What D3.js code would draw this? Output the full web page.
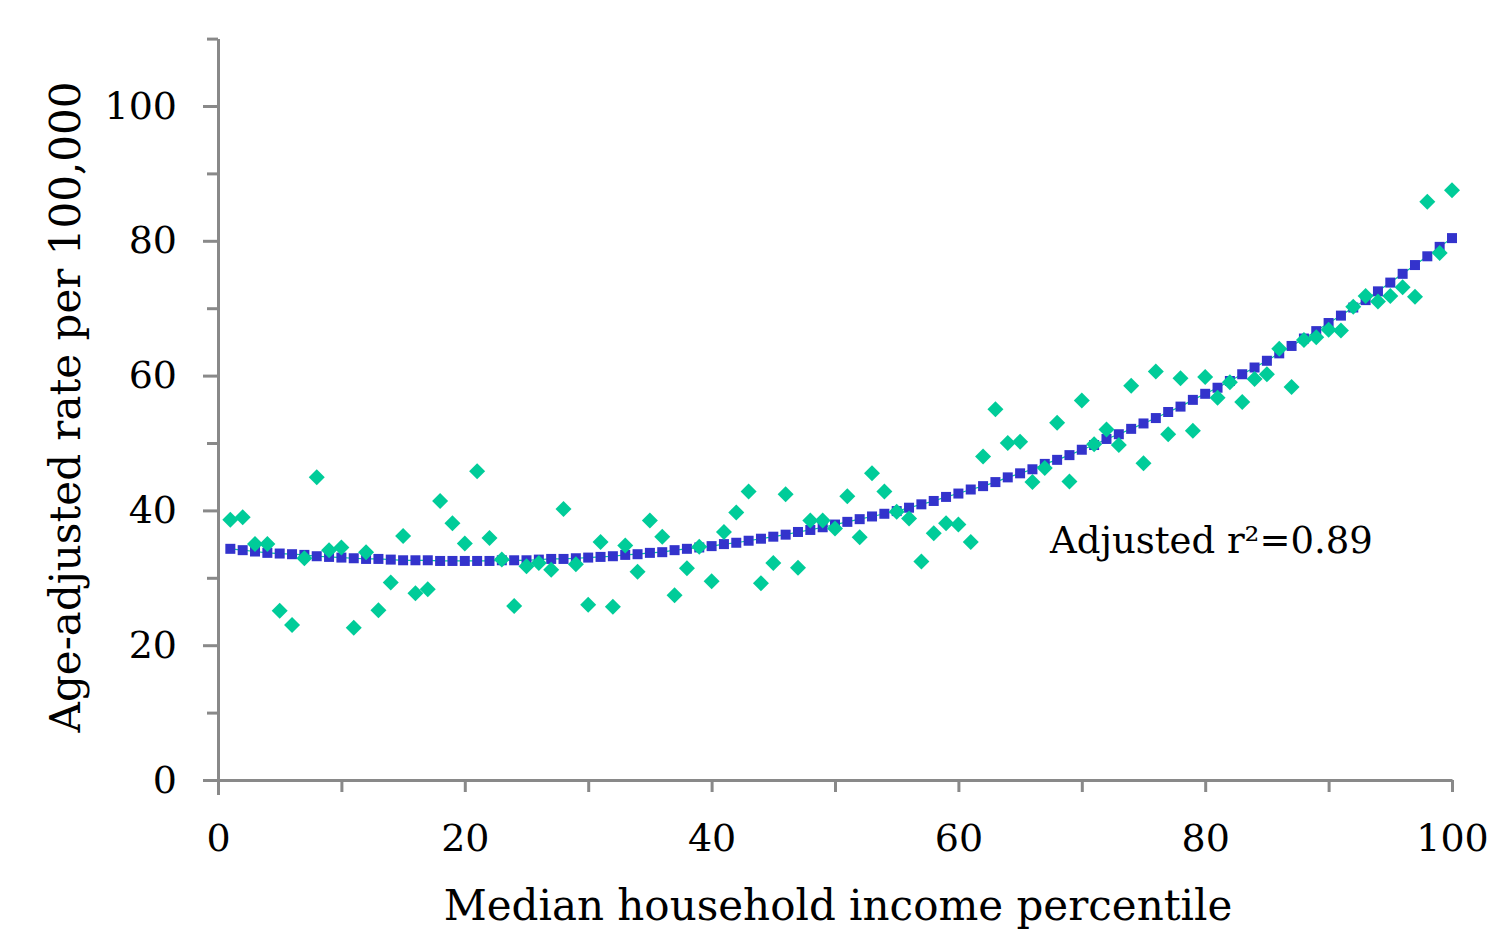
<!doctype html>
<html lang="en">
<head>
<meta charset="utf-8">
<title>Age-adjusted rate by income percentile</title>
<script src="https://d3js.org/d3.v7.min.js"></script>
<style>
  body { margin: 0; background: #fff; }
  svg text { font-family: 'DejaVu Serif', 'Liberation Serif', serif; fill: #000; }
  .axis path, .axis line { stroke: #898989; stroke-width: 3px; }
</style>
</head>
<body>
<div id="chart"></div>
<script>
// percentile 1..100
const percentiles = d3.range(1, 101)

// observed age-adjusted rates (green diamonds)
const observed = [
  38.6, 39.0, 35.0, 35.0, 25.1, 23.0, 32.9, 44.9, 34.1, 34.5,
  22.6, 33.8, 25.2, 29.3, 36.2, 27.7, 28.3, 41.4, 38.1, 35.1,
  45.8, 35.9, 32.7, 25.8, 31.7, 32.2, 31.2, 40.2, 32.0, 26.0,
  35.3, 25.7, 34.8, 30.9, 38.5, 36.1, 27.4, 31.4, 34.6, 29.5,
  36.8, 39.7, 42.8, 29.2, 32.2, 42.4, 31.5, 38.5, 38.5, 37.3,
  42.1, 36.0, 45.5, 42.8, 39.8, 38.8, 32.4, 36.6, 38.1, 37.9,
  35.3, 48.0, 55.0, 50.0, 50.2, 44.2, 46.3, 53.0, 44.3, 56.3,
  49.8, 52.0, 49.7, 58.5, 47.0, 60.6, 51.3, 59.6, 51.8, 59.8,
  56.7, 59.0, 56.1, 59.5, 60.2, 64.0, 58.3, 65.3, 65.7, 66.8,
  66.7, 70.2, 71.8, 71.0, 71.8, 73.1, 71.7, 85.8, 78.2, 87.5
]

// fitted trend (blue squares)
const fitted = [
  34.3, 34.1, 33.9, 33.7, 33.6, 33.5, 33.4, 33.2, 33.1, 33.0,
  32.9, 32.8, 32.8, 32.7, 32.6, 32.6, 32.6, 32.5, 32.5, 32.5,
  32.5, 32.5, 32.6, 32.6, 32.6, 32.7, 32.8, 32.8, 32.9, 33.0,
  33.1, 33.2, 33.4, 33.5, 33.7, 33.8, 34.1, 34.3, 34.5, 34.7,
  35.0, 35.2, 35.5, 35.8, 36.1, 36.4, 36.8, 37.1, 37.5, 37.9,
  38.3, 38.7, 39.1, 39.5, 39.9, 40.4, 40.9, 41.4, 42.0, 42.5,
  43.1, 43.6, 44.2, 44.9, 45.5, 46.1, 46.9, 47.5, 48.2, 49.0,
  49.7, 50.6, 51.3, 52.1, 52.9, 53.7, 54.6, 55.4, 56.4, 57.3,
  58.2, 59.2, 60.2, 61.2, 62.2, 63.3, 64.4, 65.5, 66.6, 67.8,
  68.9, 70.1, 71.2, 72.5, 73.8, 75.1, 76.4, 77.7, 79.1, 80.4
]

const yTicks = d3.range(0, 111, 10)
const xTicks = d3.range(0, 101, 10)
const annotation = 'Adjusted r\u00b2=0.89'

const width = 1493
const height = 931

const svg = d3.select('#chart').append('svg')
  .attr('width', width)
  .attr('height', height)

const x = d3.scaleLinear().domain([0, 100]).range([218, 1452])
const y = d3.scaleLinear().domain([0, 110]).range([780, 38.6])

// only every other tick gets a label
const labelled = d => d % 20 === 0 && d <= 100

// y axis
const yAxis = svg.append('g')
  .attr('class', 'axis')
  .attr('transform', `translate(${x(0)},0)`)
  .call(d3.axisLeft(y).tickValues(yTicks).tickSize(15).tickSizeOuter(0)
    .tickPadding(26)
    .tickFormat(d => labelled(d) ? d : ''))
yAxis.selectAll('.tick line')
  .attr('x2', d => labelled(d) ? -15 : -11)
yAxis.selectAll('.tick text')
  .style('font-size', '38px')

// x axis
const xAxis = svg.append('g')
  .attr('class', 'axis')
  .attr('transform', `translate(0,${y(0)})`)
  .call(d3.axisBottom(x).tickValues(xTicks).tickSize(12).tickSizeOuter(0)
    .tickPadding(32)
    .tickFormat(d => labelled(d) ? d : ''))
xAxis.selectAll('.tick line')
  .attr('y2', d => d === 0 ? 15 : 12)
xAxis.selectAll('.tick text')
  .style('font-size', '38px')

// trend line + squares
svg.append('path')
  .datum(fitted)
  .attr('fill', 'none')
  .attr('stroke', '#00c896')
  .attr('stroke-width', 1.2)
  .attr('d', d3.line().x((d, i) => x(percentiles[i])).y(d => y(d)))

const sq = 10
svg.append('g').selectAll('rect')
  .data(fitted)
  .join('rect')
  .attr('x', (d, i) => x(percentiles[i]) - sq / 2)
  .attr('y', d => y(d) - sq / 2)
  .attr('width', sq)
  .attr('height', sq)
  .attr('fill', '#3333cc')

// observed diamonds
svg.append('g').selectAll('path')
  .data(observed)
  .join('path')
  .attr('transform', (d, i) => `translate(${x(percentiles[i])},${y(d)})`)
  .attr('d', 'M0,-8L8,0L0,8L-8,0Z')
  .attr('fill', '#00cc99')

// annotation
svg.append('text')
  .attr('x', 1050)
  .attr('y', 553)
  .style('font-size', '37px')
  .text(annotation)

// axis titles
svg.append('text')
  .attr('x', 838)
  .attr('y', 920)
  .attr('text-anchor', 'middle')
  .style('font-size', '42px')
  .text('Median household income percentile')

svg.append('text')
  .attr('transform', 'translate(80,407) rotate(-90)')
  .attr('text-anchor', 'middle')
  .style('font-size', '42px')
  .text('Age-adjusted rate per 100,000')
</script>
</body>
</html>
